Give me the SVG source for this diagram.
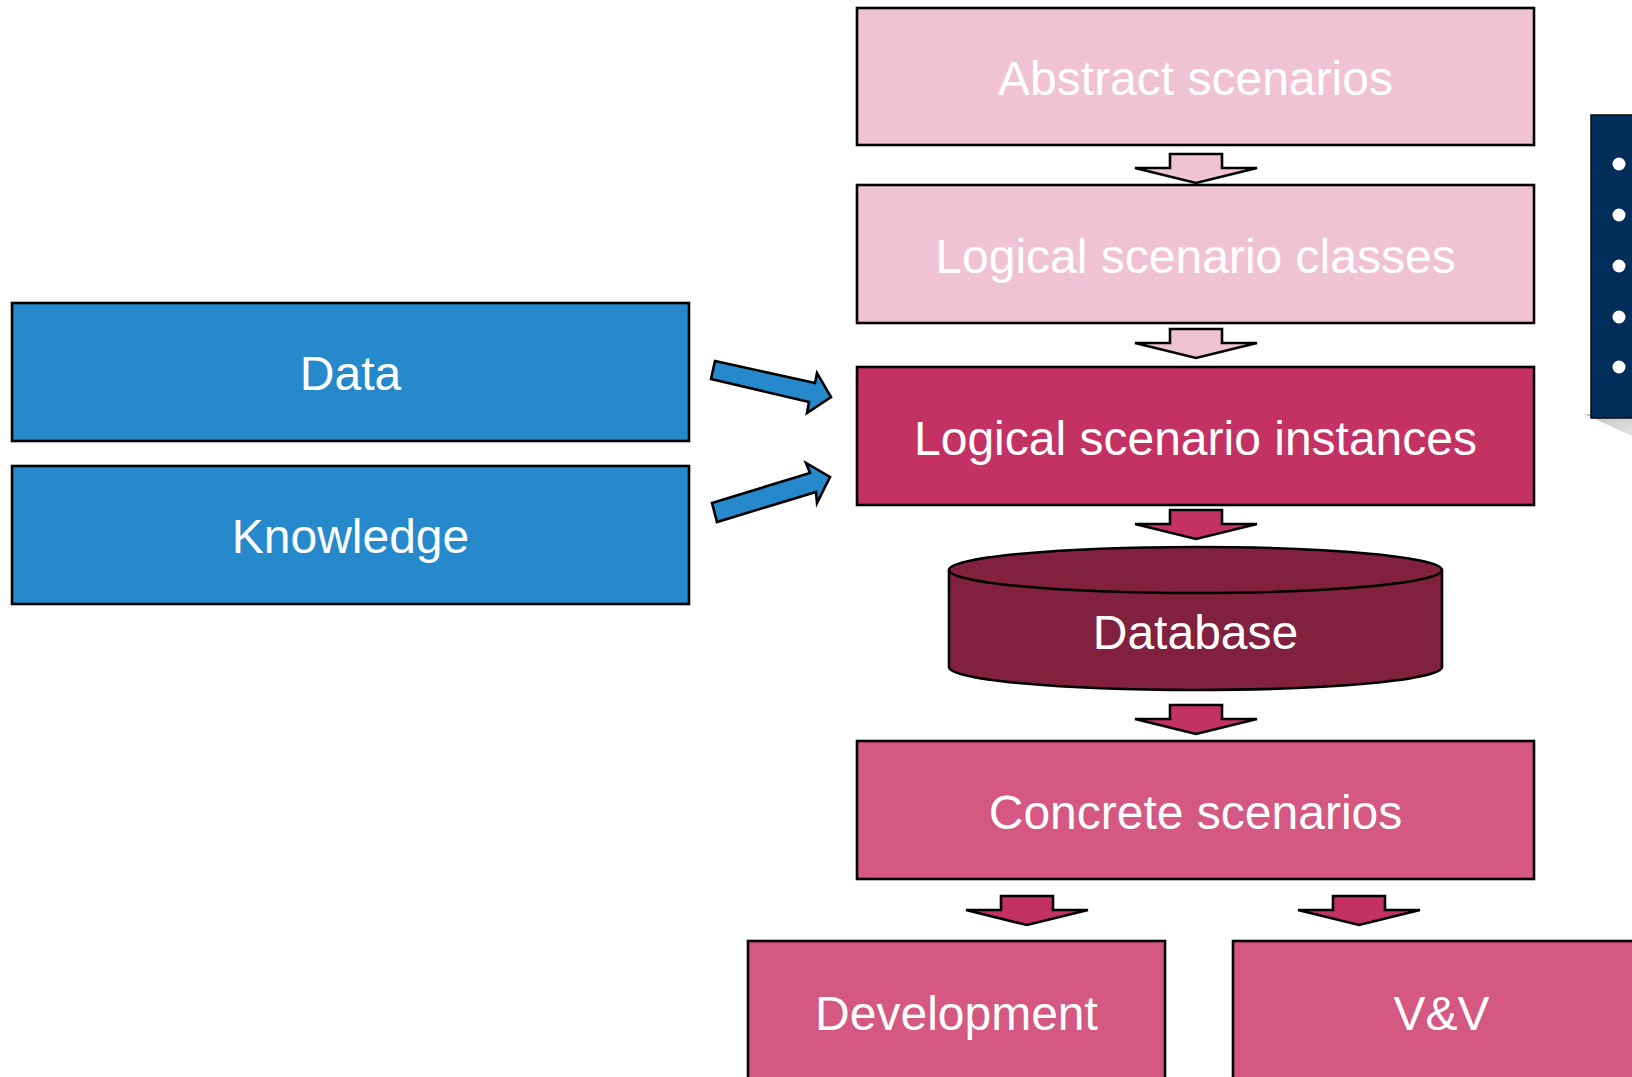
<svg xmlns="http://www.w3.org/2000/svg" xmlns:xlink="http://www.w3.org/1999/xlink" width="1632" height="1077" viewBox="0 0 1632 1077">
  <style>
    .box { stroke: #000; stroke-width: 2.6; }
    .light { fill: #f0c3d4; }
    .inst { fill: #c43263; }
    .conc { fill: #d45882; }
    .blue { fill: #2589cb; }
    .db { fill: #82203f; stroke: #000; stroke-width: 2.6; }
    .label { font-family: "Liberation Sans", Arial, sans-serif; font-size: 48px; fill: #fff; text-anchor: middle; }
    .arrow { stroke: #000; stroke-width: 2.6; stroke-linejoin: miter; }
  </style>
  <defs>
    <!-- block arrow pointing down, origin at top centre of shaft -->
    <polygon id="down" points="-26,0 26,0 26,14 61,14 0,29 -61,14 -26,14"/>
    <linearGradient id="shade" x1="0" y1="0" x2="1" y2="1">
      <stop offset="0" stop-color="#bdbdbd"/>
      <stop offset="1" stop-color="#e6e6e6"/>
    </linearGradient>
  </defs>
  <rect width="1632" height="1077" fill="#fff"/>

  <!-- side panel -->
  <g id="panel">
    <polygon points="1584,414 1632,416 1632,436" fill="url(#shade)"/>
    <rect x="1591" y="115" width="60" height="303" fill="#002d5a" stroke="#0a0a14" stroke-width="1.5"/>
    <g fill="#fff">
      <circle cx="1619" cy="164" r="6.5"/>
      <circle cx="1619" cy="215" r="6.5"/>
      <circle cx="1619" cy="266" r="6.5"/>
      <circle cx="1619" cy="317" r="6.5"/>
      <circle cx="1619" cy="367" r="6.5"/>
    </g>
  </g>

  <g id="abstract">
    <rect class="box light" x="857" y="8" width="677" height="137"/>
    <text class="label" x="1195.5" y="95">Abstract scenarios</text>
  </g>
  <g id="classes">
    <rect class="box light" x="857" y="185" width="677" height="138"/>
    <text class="label" x="1195.5" y="273">Logical scenario classes</text>
  </g>
  <g id="instances">
    <rect class="box inst" x="857" y="367" width="677" height="138"/>
    <text class="label" x="1195.5" y="455">Logical scenario instances</text>
  </g>
  <g id="database">
    <path class="db" d="M949,570 L949,667 A246.5,23 0 0 0 1442,667 L1442,570"/>
    <ellipse class="db" cx="1195.5" cy="570" rx="246.5" ry="23"/>
    <text class="label" x="1195.5" y="649">Database</text>
  </g>
  <g id="concrete">
    <rect class="box conc" x="857" y="741" width="677" height="138"/>
    <text class="label" x="1195.5" y="829">Concrete scenarios</text>
  </g>
  <g id="development">
    <rect class="box conc" x="748" y="941" width="417" height="140"/>
    <text class="label" x="956.5" y="1030">Development</text>
  </g>
  <g id="vv">
    <rect class="box conc" x="1233" y="941" width="417" height="140"/>
    <text class="label" x="1441.5" y="1030">V&amp;V</text>
  </g>
  <g id="data">
    <rect class="box blue" x="12" y="303" width="677" height="138"/>
    <text class="label" x="350.5" y="390">Data</text>
  </g>
  <g id="knowledge">
    <rect class="box blue" x="12" y="466" width="677" height="138"/>
    <text class="label" x="350.5" y="553">Knowledge</text>
  </g>

  <g id="connectors">
    <use xlink:href="#down" class="arrow light" transform="translate(1196,154)"/>
    <use xlink:href="#down" class="arrow light" transform="translate(1196,329)"/>
    <use xlink:href="#down" class="arrow inst" transform="translate(1196,510)"/>
    <use xlink:href="#down" class="arrow inst" transform="translate(1196,705)"/>
    <use xlink:href="#down" class="arrow inst" transform="translate(1027,896)"/>
    <use xlink:href="#down" class="arrow inst" transform="translate(1359,896)"/>
    <polygon class="arrow blue" points="715,361 815,383 817,373 831,397 807,413 809,402 711,379"/>
    <polygon class="arrow blue" points="712,503 810,473 806,463 830,477 817,503 816,492 717,522"/>
  </g>
</svg>
